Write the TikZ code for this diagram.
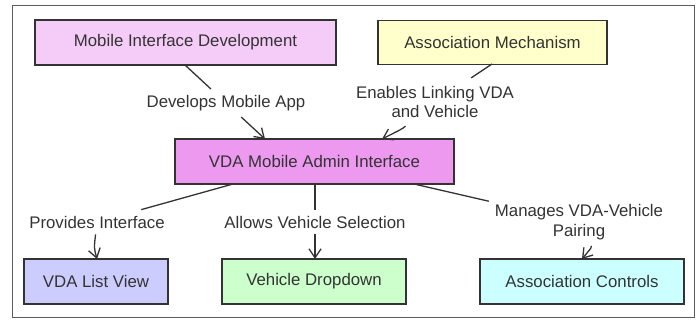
\documentclass[tikz,border=0pt]{standalone}
\usepackage{fontspec}
\setmainfont{Liberation Sans}
\usetikzlibrary{arrows.meta}
\definecolor{ink}{HTML}{333333}
\definecolor{cMID}{HTML}{F5CCF7}
\definecolor{cAM}{HTML}{FFFFCC}
\definecolor{cADM}{HTML}{EE99F0}
\definecolor{cLST}{HTML}{CCCCFF}
\definecolor{cDRP}{HTML}{CCFFCC}
\definecolor{cCTL}{HTML}{CCFFFF}
\tikzset{
  box/.style={draw=ink, line width=1.3pt, inner sep=0pt, text=ink,
    font=\fontsize{16.8}{20}\selectfont},
  lbl/.style={inner sep=6pt, text=ink, align=center,
    font=\fontsize{16.8}{19.5}\selectfont},
  edge/.style={draw=ink, line width=1.3pt},
  arr/.style={edge, -{Straight Barb[length=9pt,width=12pt,line width=1.3pt]}}
}
\begin{document}
\begin{tikzpicture}[x=1pt,y=-1pt]
\useasboundingbox (0,0) rectangle (699,320);
\draw[draw=ink!80, line width=1pt] (12,6) rectangle (694,318);

\node[box, fill=cMID, minimum width=301pt, minimum height=45pt] (mid) at (185.5,42.5) {Mobile Interface Development};
\node[box, fill=cAM, minimum width=229pt, minimum height=44pt] (am) at (492.5,42.5) {Association Mechanism};
\node[box, fill=cADM, minimum width=279pt, minimum height=45pt] (adm) at (314.5,161.5) {VDA Mobile Admin Interface};
\node[box, fill=cLST, minimum width=144pt, minimum height=45pt] (lst) at (96,281.5) {VDA List View};
\node[box, fill=cDRP, minimum width=184pt, minimum height=45pt] (drp) at (314,281.5) {Vehicle Dropdown};
\node[box, fill=cCTL, minimum width=204pt, minimum height=45pt] (ctl) at (582,281.5) {Association Controls};

\node[lbl] (l1) at (226,103) {Develops Mobile App};
\node[lbl, inner sep=8pt] (l2) at (435,102) {Enables Linking VDA\\and Vehicle};
\node[lbl] (l3) at (97,222) {Provides Interface};
\node[lbl] (l4) at (315,222) {Allows Vehicle Selection};
\node[lbl] (l5) at (579,222) {Manages VDA-Vehicle\\Pairing};

\coordinate (s1) at (185,65);
\coordinate (t1) at (265,139);
\coordinate (s2) at (492,64);
\coordinate (t2) at (382,139);
\coordinate (s3) at (233,184);
\coordinate (t3) at (97,259);
\coordinate (s4) at (315,184);
\coordinate (t4) at (315,259);
\coordinate (s5) at (414,184);
\coordinate (t5) at (582,259);

\draw[edge] (s1) -- (l1);
\draw[arr] (l1) -- (t1);
\draw[edge] (s2) -- (l2);
\draw[arr] (l2) .. controls (402,129) .. (t2);
\draw[edge] (s3) -- (l3);
\draw[arr] (l3) .. controls (94,248) .. (t3);
\draw[edge] (s4) -- (l4);
\draw[arr] (l4) -- (t4);
\draw[edge] (s5) -- (l5);
\draw[arr] (l5) .. controls (592,247) .. (t5);
\end{tikzpicture}
\end{document}
